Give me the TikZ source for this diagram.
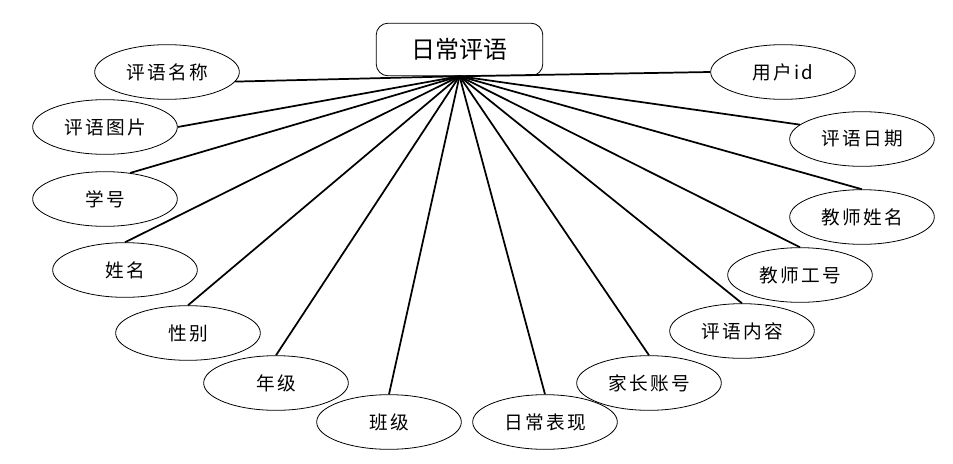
\documentclass[tikz,border=0pt]{standalone}
\usepackage{fontspec}
\newfontfamily\cjk[LetterSpace=12]{Noto Sans CJK SC}
\newfontfamily\cjkt{Noto Sans CJK SC}
\usetikzlibrary{shapes.geometric}

\begin{document}
\begin{tikzpicture}[x=0.75pt,y=-0.75pt,
  entity/.style={draw, rounded corners=9pt, minimum width=125pt, minimum height=39.5pt, inner sep=0pt, line width=0.6pt, font=\cjkt\fontsize{18}{20}\selectfont},
  attr/.style={draw, ellipse, minimum width=108.5pt, minimum height=41pt, inner sep=0pt, line width=0.6pt, font=\cjk\fontsize{14}{16}\selectfont},
  link/.style={line width=1.3pt}]
\useasboundingbox (0,0) rectangle (953,464);
\node[entity] (rcpy) at (459.5,49.5) {日常评语};
% attributes: name/x/y/label/anchor angle
\foreach \n/\x/\y/\t/\a in {pymc/167/72/评语名称/-8, pytp/105/127/评语图片/0,
    xh/105/199/学号/46, xm/125/270/姓名/90, xb/188/333/性别/90,
    nj/276/383/年级/90, bj/389/422/班级/90, rcbx/545/422/日常表现/90,
    jzzh/649/383/家长账号/90, pynr/742/331/评语内容/90, jsgh/800/275/教师工号/90,
    jsxm/862/217/教师姓名/90, pyrq/862/139/评语日期/167, yhid/783/72/用户id/180} {
  \node[attr] (\n) at (\x,\y) {\t};
  \draw[link] (rcpy.south) -- (\n.\a);
}
\end{tikzpicture}
\end{document}
